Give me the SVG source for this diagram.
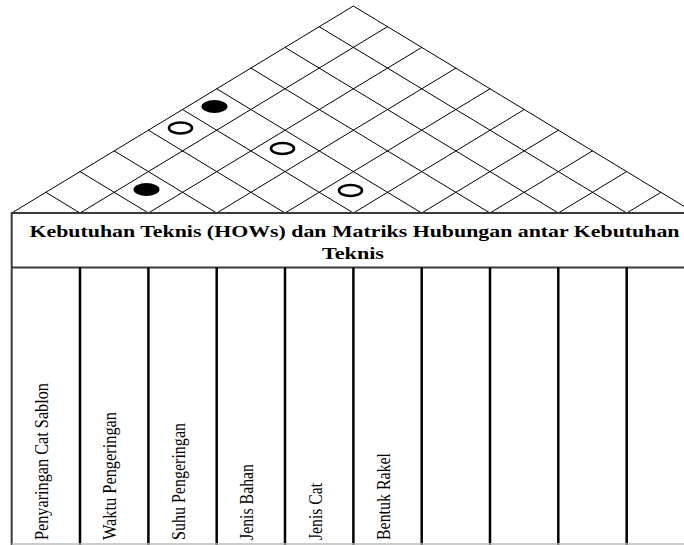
<svg xmlns="http://www.w3.org/2000/svg" width="684" height="545" viewBox="0 0 684 545">
  <style>
    .grid { stroke: #000; stroke-width: 1; fill: none; stroke-linecap: round; }
    .col { stroke: #000; stroke-width: 2.5; }
    .frame { stroke: #3a3a3a; stroke-width: 2; }
    .hdr { font-family: "Liberation Serif", "Times New Roman", serif; font-weight: bold; font-size: 16.5px; fill: #000; }
    .lbl { font-family: "Liberation Serif", "Times New Roman", serif; font-size: 18px; fill: #000; }
    .strong { fill: #000; }
    .weak { fill: none; stroke: #000; stroke-width: 2.6; }
  </style>
  <rect width="684" height="545" fill="#fff"/>

  <g id="roof">
    <polyline class="grid" points="11.7,213 353.4,6 695,213"/>
    <line class="grid" x1="80.0" y1="213" x2="387.5" y2="26.7"/>
    <line class="grid" x1="148.4" y1="213" x2="421.8" y2="47.4"/>
    <line class="grid" x1="216.7" y1="213" x2="455.9" y2="68.1"/>
    <line class="grid" x1="285.0" y1="213" x2="490.0" y2="88.8"/>
    <line class="grid" x1="353.4" y1="213" x2="524.3" y2="109.5"/>
    <line class="grid" x1="421.7" y1="213" x2="558.4" y2="130.2"/>
    <line class="grid" x1="490.0" y1="213" x2="592.5" y2="150.9"/>
    <line class="grid" x1="558.3" y1="213" x2="626.6" y2="171.6"/>
    <line class="grid" x1="626.7" y1="213" x2="660.9" y2="192.3"/>
    <line class="grid" x1="80.0" y1="213" x2="45.9" y2="192.3"/>
    <line class="grid" x1="148.4" y1="213" x2="80.0" y2="171.6"/>
    <line class="grid" x1="216.7" y1="213" x2="114.2" y2="150.9"/>
    <line class="grid" x1="285.0" y1="213" x2="148.4" y2="130.2"/>
    <line class="grid" x1="353.4" y1="213" x2="182.5" y2="109.5"/>
    <line class="grid" x1="421.7" y1="213" x2="216.7" y2="88.8"/>
    <line class="grid" x1="490.0" y1="213" x2="250.9" y2="68.1"/>
    <line class="grid" x1="558.3" y1="213" x2="285.0" y2="47.4"/>
    <line class="grid" x1="626.7" y1="213" x2="319.2" y2="26.7"/>
  </g>

  <g id="correlations">
    <ellipse class="strong" cx="214.5" cy="106.5" rx="13" ry="6.5"/>
    <ellipse class="weak" cx="180.5" cy="128" rx="11.5" ry="5.5"/>
    <ellipse class="weak" cx="282.5" cy="148.5" rx="11.5" ry="5.5"/>
    <ellipse class="strong" cx="146.5" cy="189.5" rx="13" ry="6.5"/>
    <ellipse class="weak" cx="350.5" cy="190.5" rx="11.5" ry="5.5"/>
  </g>

  <g id="header">
    <line class="frame" x1="11.7" y1="213" x2="695" y2="213"/>
    <line class="frame" x1="11.7" y1="267.5" x2="695" y2="267.5"/>
    <line class="frame" x1="11.7" y1="212" x2="11.7" y2="545"/>
    <text class="hdr" x="29.5" y="236.5" textLength="650" lengthAdjust="spacingAndGlyphs">Kebutuhan Teknis (HOWs) dan Matriks Hubungan antar Kebutuhan</text>
    <text class="hdr" x="322" y="258.5" textLength="62" lengthAdjust="spacingAndGlyphs">Teknis</text>
  </g>

  <g id="connectors">
    <line class="col" x1="80.0" y1="267.5" x2="80.0" y2="545"/>
    <line class="col" x1="148.4" y1="267.5" x2="148.4" y2="545"/>
    <line class="col" x1="216.7" y1="267.5" x2="216.7" y2="545"/>
    <line class="col" x1="285.0" y1="267.5" x2="285.0" y2="545"/>
    <line class="col" x1="353.4" y1="267.5" x2="353.4" y2="545"/>
    <line class="col" x1="421.7" y1="267.5" x2="421.7" y2="545"/>
    <line class="col" x1="490.0" y1="267.5" x2="490.0" y2="545"/>
    <line class="col" x1="558.3" y1="267.5" x2="558.3" y2="545"/>
    <line class="col" x1="626.7" y1="267.5" x2="626.7" y2="545"/>
    <line x1="11.7" y1="544" x2="695" y2="544" stroke="#bbb" stroke-width="1.5"/>
  </g>

  <g id="how-1"><text class="lbl" transform="translate(48.2,540) rotate(-90)" textLength="157" lengthAdjust="spacingAndGlyphs">Penyaringan Cat Sablon</text></g>
  <g id="how-2"><text class="lbl" transform="translate(115.5,540) rotate(-90)" textLength="128" lengthAdjust="spacingAndGlyphs">Waktu Pengeringan</text></g>
  <g id="how-3"><text class="lbl" transform="translate(184.9,540) rotate(-90)" textLength="117" lengthAdjust="spacingAndGlyphs">Suhu Pengeringan</text></g>
  <g id="how-4"><text class="lbl" transform="translate(253.2,540) rotate(-90)" textLength="76" lengthAdjust="spacingAndGlyphs">Jenis Bahan</text></g>
  <g id="how-5"><text class="lbl" transform="translate(321.5,540) rotate(-90)" textLength="57" lengthAdjust="spacingAndGlyphs">Jenis Cat</text></g>
  <g id="how-6"><text class="lbl" transform="translate(389.9,540) rotate(-90)" textLength="87" lengthAdjust="spacingAndGlyphs">Bentuk Rakel</text></g>
</svg>
